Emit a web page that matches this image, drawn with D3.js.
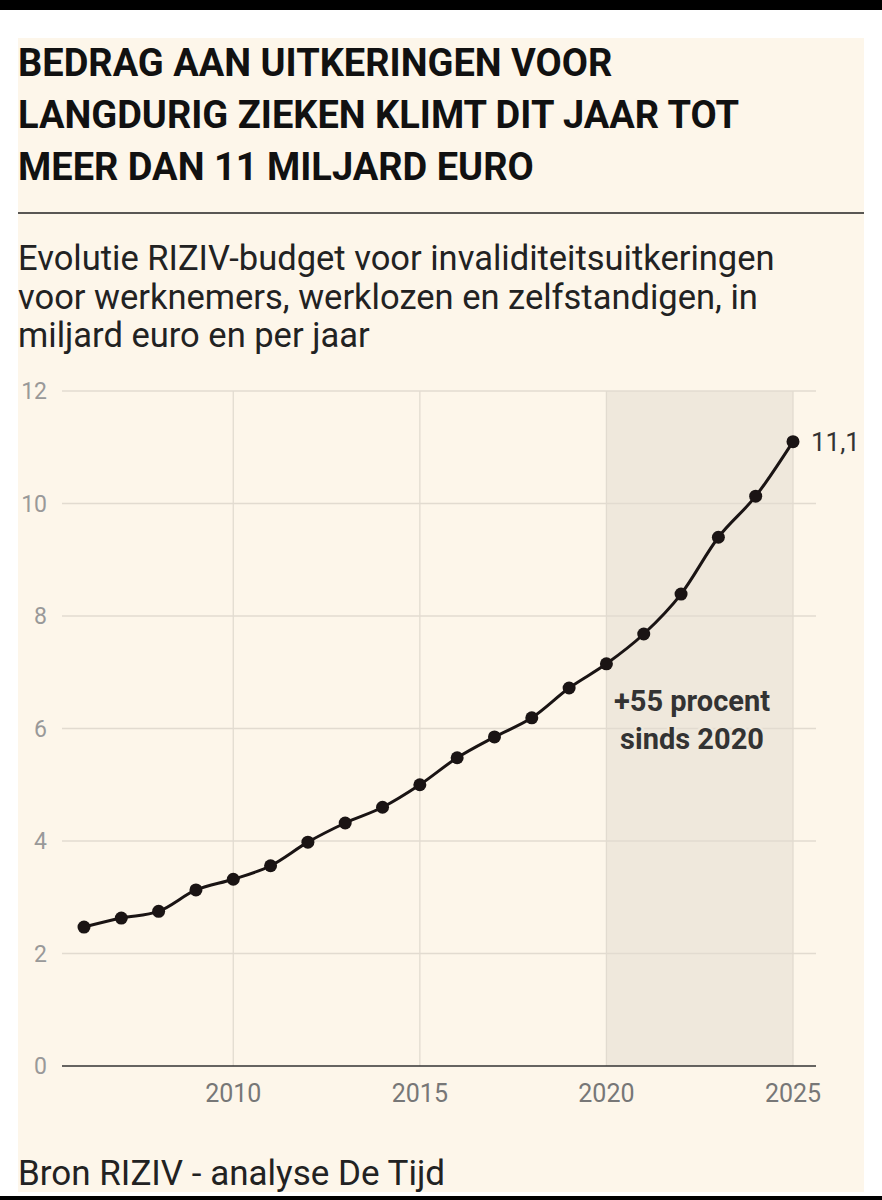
<!DOCTYPE html>
<html lang="nl">
<head>
<meta charset="UTF-8">
<script src="https://d3js.org/d3.v7.min.js"></script>
<style>
  body { margin: 0; background: #fff; }
  svg { display: block; }
</style>
</head>
<body>
<svg width="882" height="1200"></svg>
<script>
  const years = [2006, 2007, 2008, 2009, 2010, 2011, 2012, 2013, 2014, 2015,
                 2016, 2017, 2018, 2019, 2020, 2021, 2022, 2023, 2024, 2025];
  const budget = [2.47, 2.63, 2.75, 3.13, 3.32, 3.56, 3.98, 4.32, 4.6, 5.0,
                  5.48, 5.85, 6.19, 6.72, 7.15, 7.68, 8.39, 9.4, 10.13, 11.1];
  const yTicks = [0, 2, 4, 6, 8, 10, 12];
  const xTicks = [2010, 2015, 2020, 2025];
  const titleLines = ["BEDRAG AAN UITKERINGEN VOOR", "LANGDURIG ZIEKEN KLIMT DIT JAAR TOT", "MEER DAN 11 MILJARD EURO"];
  const subLines = ["Evolutie RIZIV-budget voor invaliditeitsuitkeringen", "voor werknemers, werklozen en zelfstandigen, in", "miljard euro en per jaar"];

  const svg = d3.select("svg");
  svg.append("rect").attr("width", 882).attr("height", 10).attr("fill", "#000");
  svg.append("rect").attr("x", 18).attr("y", 38).attr("width", 846).attr("height", 1154).attr("fill", "#fdf6ea");
  svg.append("rect").attr("y", 1196).attr("width", 882).attr("height", 4).attr("fill", "#000");

  svg.selectAll(".title").data(titleLines).join("text")
    .attr("x", 18).attr("y", (d, i) => 76 + i * 52)
    .attr("font-family", "Roboto, sans-serif").attr("font-weight", 700)
    .attr("font-size", 38).attr("fill", "#111").text(d => d);
  svg.append("line").attr("x1", 18).attr("x2", 864).attr("y1", 213).attr("y2", 213)
    .attr("stroke", "#222").attr("stroke-width", 1.5);
  svg.selectAll(".sub").data(subLines).join("text")
    .attr("x", 18).attr("y", (d, i) => 270 + i * 38.5)
    .attr("font-family", "Roboto, sans-serif").attr("font-size", 34.5).attr("fill", "#222").text(d => d);

  const x = d3.scaleLinear().domain([2006, 2025]).range([84, 793]);
  const y = d3.scaleLinear().domain([0, 12]).range([1066, 391]);

  svg.append("rect").attr("x", x(2020)).attr("y", y(12)).attr("width", x(2025) - x(2020))
    .attr("height", y(0) - y(12)).attr("fill", "#efe8dc");

  svg.selectAll(".hg").data(yTicks.filter(d => d > 0)).join("line")
    .attr("x1", 62).attr("x2", 816).attr("y1", d => y(d)).attr("y2", d => y(d))
    .attr("stroke", "#e2dbd0").attr("stroke-width", 1.3);
  svg.selectAll(".vg").data(xTicks).join("line")
    .attr("x1", d => x(d)).attr("x2", d => x(d)).attr("y1", y(12)).attr("y2", y(0))
    .attr("stroke", "#e2dbd0").attr("stroke-width", 1.3);
  svg.append("line").attr("x1", 62).attr("x2", 816).attr("y1", y(0)).attr("y2", y(0))
    .attr("stroke", "#333").attr("stroke-width", 1.5);

  svg.selectAll(".yl").data(yTicks).join("text")
    .attr("x", 47).attr("y", d => y(d) + 8).attr("text-anchor", "end")
    .attr("font-family", "Roboto, sans-serif").attr("font-size", 23).attr("fill", "#999").text(d => d);
  svg.selectAll(".xl").data(xTicks).join("text")
    .attr("x", d => x(d)).attr("y", 1102).attr("text-anchor", "middle")
    .attr("font-family", "Roboto, sans-serif").attr("font-size", 25).attr("fill", "#777").text(d => d);

  const pts = years.map((yr, i) => [yr, budget[i]]);
  svg.append("path").datum(pts)
    .attr("d", d3.line().x(d => x(d[0])).y(d => y(d[1])).curve(d3.curveMonotoneX))
    .attr("fill", "none").attr("stroke", "#1a1414").attr("stroke-width", 3);
  svg.selectAll(".pt").data(pts).join("circle")
    .attr("cx", d => x(d[0])).attr("cy", d => y(d[1])).attr("r", 6.5).attr("fill", "#1a1414");

  svg.append("text").attr("x", x(2025) + 18).attr("y", y(11.1) + 9)
    .attr("font-family", "Roboto, sans-serif").attr("font-size", 26).attr("fill", "#333").text("11,1");

  const ann = svg.append("text").attr("font-family", "Roboto, sans-serif").attr("font-weight", 700)
    .attr("font-size", 29).attr("fill", "#333").attr("text-anchor", "middle")
    .attr("stroke", "#efe8dc").attr("stroke-width", 5).attr("paint-order", "stroke");
  ann.append("tspan").attr("x", 692).attr("y", 711).text("+55 procent");
  ann.append("tspan").attr("x", 692).attr("y", 749).text("sinds 2020");

  svg.append("text").attr("x", 18).attr("y", 1185)
    .attr("font-family", "Roboto, sans-serif").attr("font-size", 35).attr("fill", "#222")
    .text("Bron RIZIV - analyse De Tijd");
</script>
</body>
</html>
